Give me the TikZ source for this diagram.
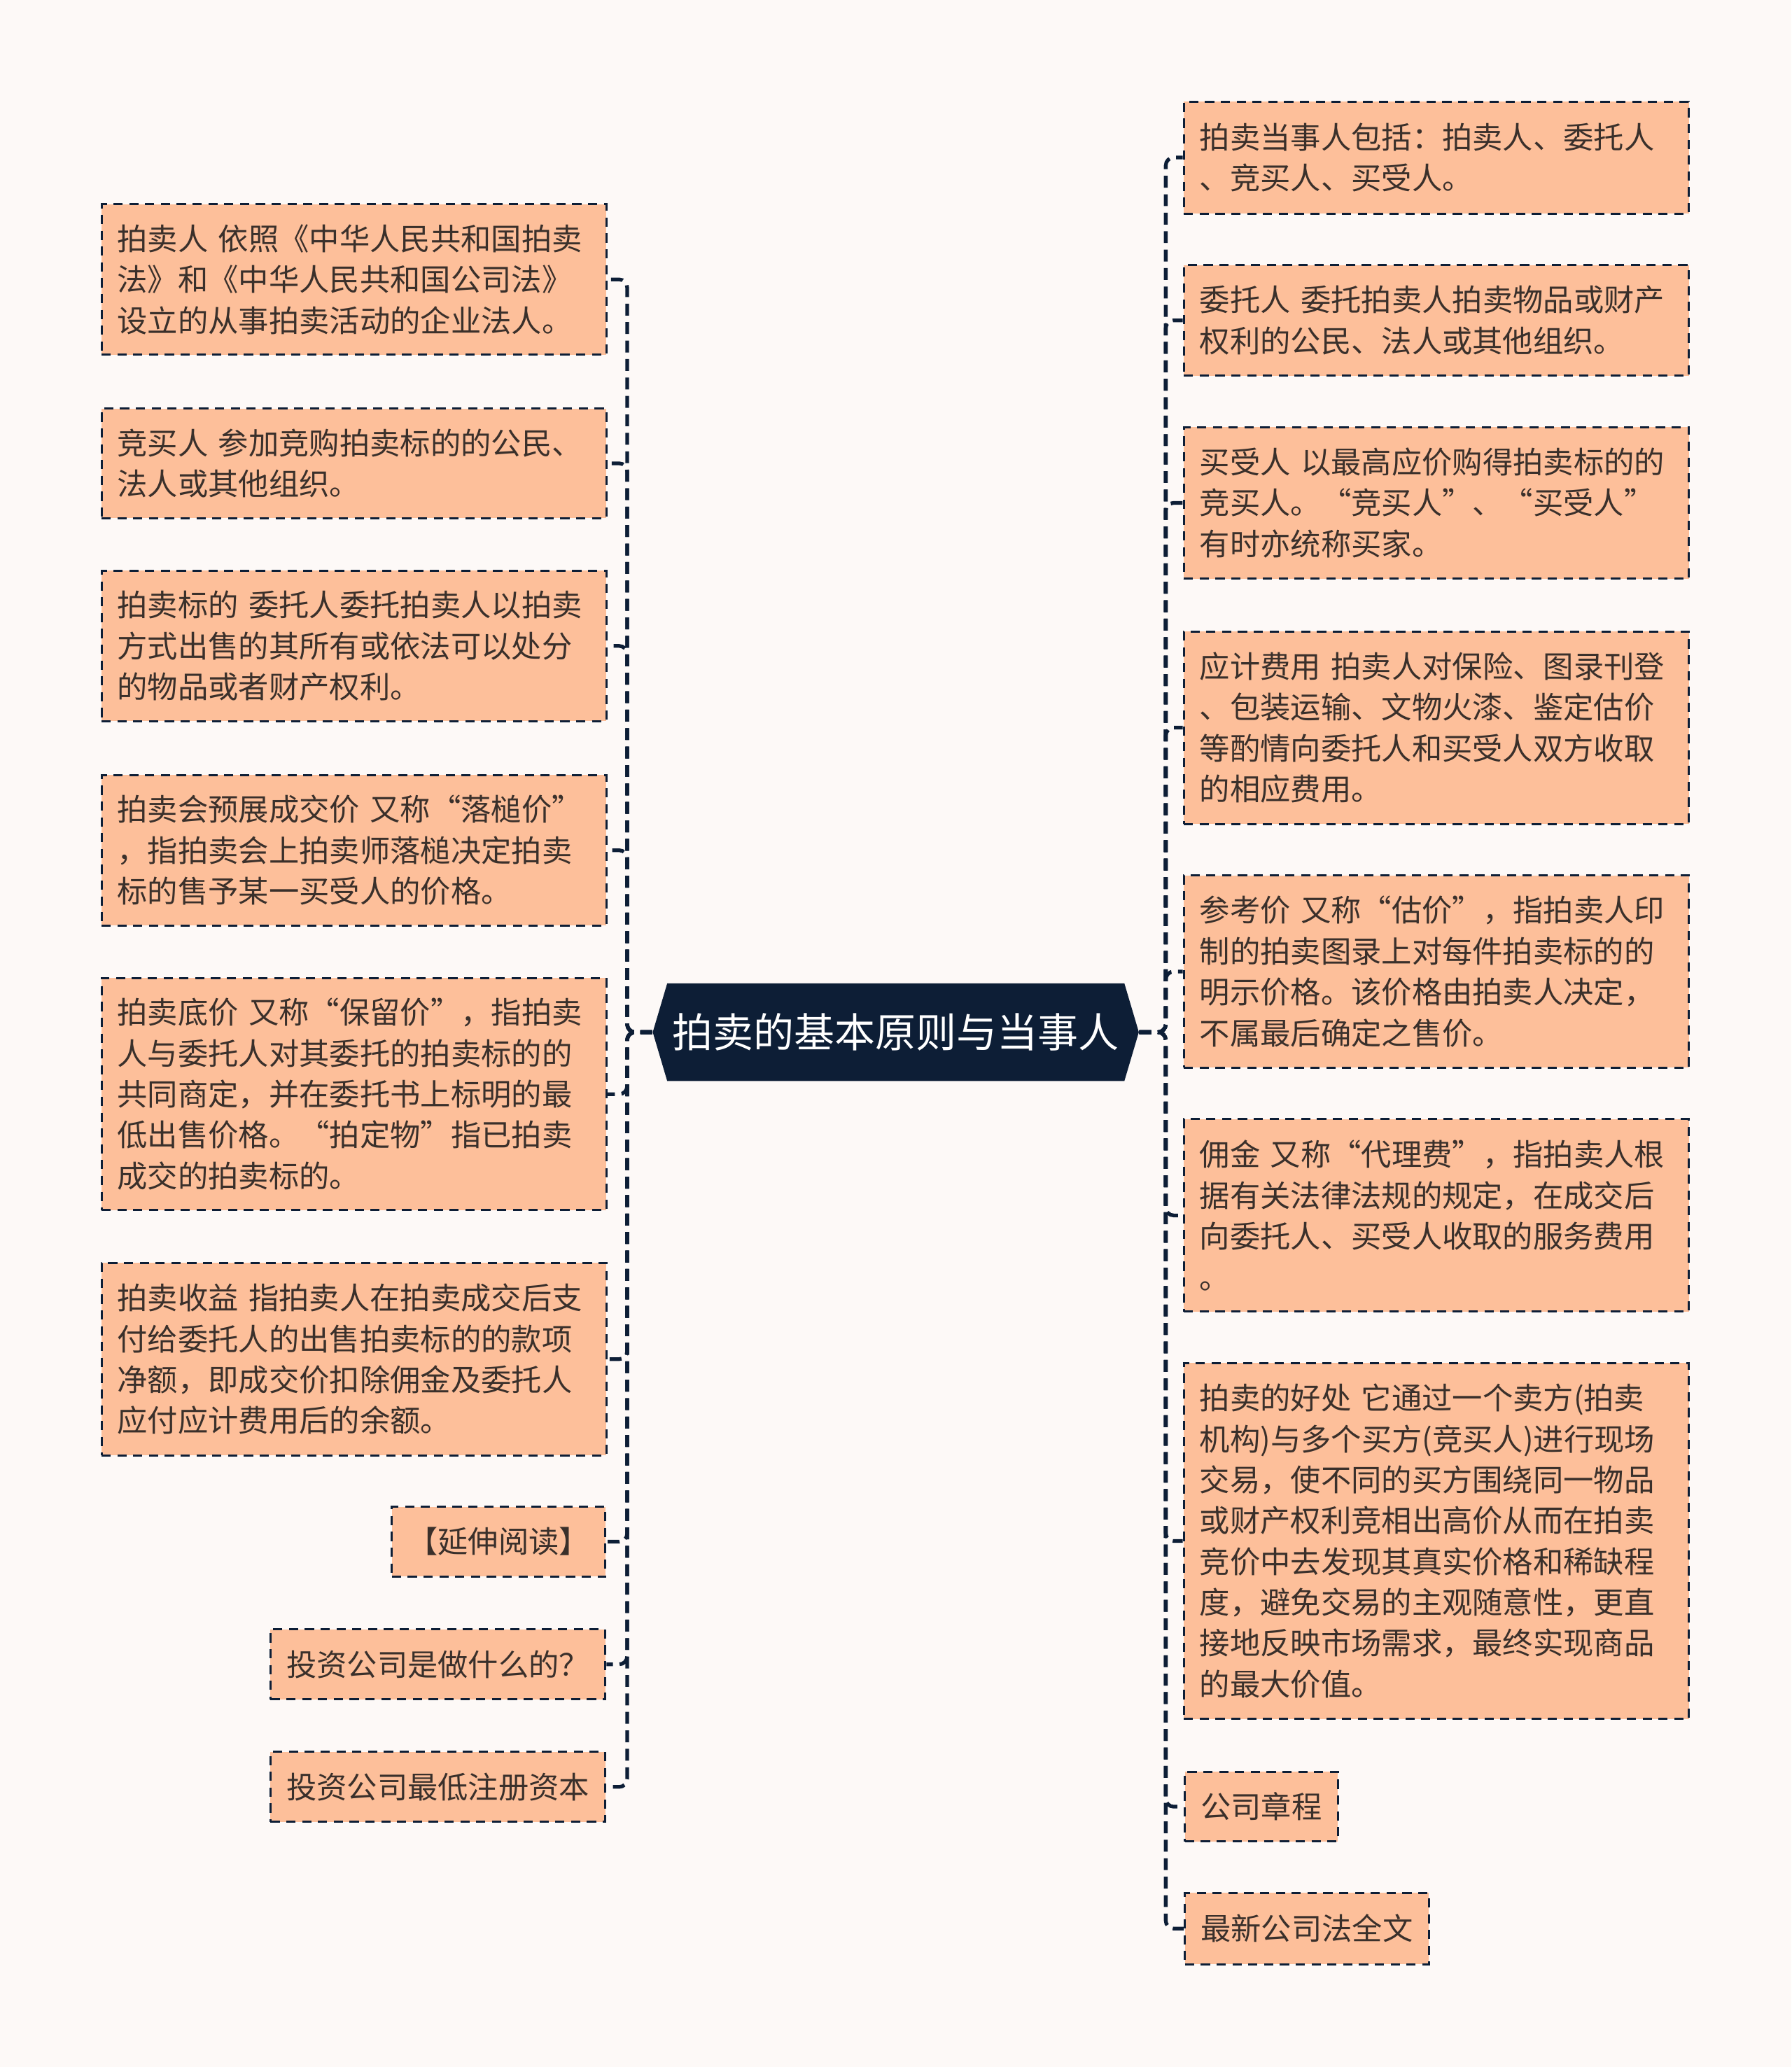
\documentclass[tikz,border=0pt]{standalone}
\usepackage{fontspec}
\setmainfont{Noto Sans CJK SC}
\usepackage{xcolor}
\usepackage{tikz}
\usetikzlibrary{shapes.symbols}
\definecolor{navyc}{HTML}{0D1E36}
\definecolor{peachc}{HTML}{FDBF9A}
\definecolor{inkc}{HTML}{3A302B}
\definecolor{pagebg}{HTML}{FDF9F7}

\begin{document}
\begin{tikzpicture}[x=0.5pt,y=-0.5pt,
  leaf/.style={draw=navyc,fill=peachc,text=inkc,line width=0.8pt,
               dash pattern=on 3.5pt off 2.5pt,inner xsep=6pt,inner ysep=7pt,
               font=\fontsize{11.5pt}{15.5pt}\selectfont},
  wide/.style={leaf,text width=179.5pt,align=left},
  hub/.style={signal,signal to=east and west,signal pointer angle=147,
              fill=navyc,text=white,minimum width=182.5pt,minimum height=37pt,
              inner sep=2pt,font=\fontsize{15.4pt}{18pt}\selectfont},
  link/.style={draw=navyc,line width=1.4pt,dash pattern=on 4.5pt off 2.5pt,
               rounded corners=3pt},
]
\fill[pagebg] (0,0) rectangle (1359,1568);
\useasboundingbox (0,0) rectangle (1359,1568);

\node[hub] (root) at (679.5,783) {拍卖的基本原则与当事人};

% left branch
\node[wide,minimum height=57pt] (l1) at (268.5,212)
  {拍卖人 依照《中华人民共和国拍卖\\法》和《中华人民共和国公司法》\\设立的从事拍卖活动的企业法人。};
\node[wide,minimum height=41.5pt] (l2) at (268.5,351.5)
  {竞买人 参加竞购拍卖标的的公民、\\法人或其他组织。};
\node[wide,minimum height=57pt] (l3) at (268.5,490)
  {拍卖标的 委托人委托拍卖人以拍卖\\方式出售的其所有或依法可以处分\\的物品或者财产权利。};
\node[wide,minimum height=57pt] (l4) at (268.5,645)
  {拍卖会预展成交价 又称“落槌价”\\，指拍卖会上拍卖师落槌决定拍卖\\标的售予某一买受人的价格。};
\node[wide,minimum height=88pt] (l5) at (268.5,830)
  {拍卖底价 又称“保留价”，指拍卖\\人与委托人对其委托的拍卖标的的\\共同商定，并在委托书上标明的最\\低出售价格。“拍定物”指已拍卖\\成交的拍卖标的。};
\node[wide,minimum height=73pt] (l6) at (268.5,1031)
  {拍卖收益 指拍卖人在拍卖成交后支\\付给委托人的出售拍卖标的的款项\\净额，即成交价扣除佣金及委托人\\应付应计费用后的余额。};
\node[leaf,anchor=east,minimum height=26.5pt] (l7) at (460,1169.5) {【延伸阅读】};
\node[leaf,anchor=east,minimum height=26.5pt] (l8) at (460,1262.5) {投资公司是做什么的？};
\node[leaf,anchor=east,minimum height=26.5pt] (l9) at (460,1355.5) {投资公司最低注册资本};

% right branch
\node[wide,minimum height=42.5pt] (r1) at (1089.5,119.5)
  {拍卖当事人包括：拍卖人、委托人\\、竞买人、买受人。};
\node[wide,minimum height=42pt] (r2) at (1089.5,243)
  {委托人 委托拍卖人拍卖物品或财产\\权利的公民、法人或其他组织。};
\node[wide,minimum height=57.5pt] (r3) at (1089.5,381.5)
  {买受人 以最高应价购得拍卖标的的\\竞买人。“竞买人”、“买受人”\\有时亦统称买家。};
\node[wide,minimum height=73pt] (r4) at (1089.5,552)
  {应计费用 拍卖人对保险、图录刊登\\、包装运输、文物火漆、鉴定估价\\等酌情向委托人和买受人双方收取\\的相应费用。};
\node[wide,minimum height=73pt] (r5) at (1089.5,737)
  {参考价 又称“估价”，指拍卖人印\\制的拍卖图录上对每件拍卖标的的\\明示价格。该价格由拍卖人决定，\\不属最后确定之售价。};
\node[wide,minimum height=73pt] (r6) at (1089.5,922)
  {佣金 又称“代理费”，指拍卖人根\\据有关法律法规的规定，在成交后\\向委托人、买受人收取的服务费用\\。};
\node[wide,minimum height=135pt] (r7) at (1089.5,1169)
  {拍卖的好处 它通过一个卖方(拍卖\\机构)与多个买方(竞买人)进行现场\\交易，使不同的买方围绕同一物品\\或财产权利竞相出高价从而在拍卖\\竞价中去发现其真实价格和稀缺程\\度，避免交易的主观随意性，更直\\接地反映市场需求，最终实现商品\\的最大价值。};
\node[leaf,anchor=west,minimum height=26.5pt] (r8) at (898,1370.5) {公司章程};
\node[leaf,anchor=west,minimum height=27pt] (r9) at (898,1463) {最新公司法全文};

% connectors
\draw[link] (root.west) -- ++(-19,0) |- (l1.east);
\draw[link] (root.west) -- ++(-19,0) |- (l2.east);
\draw[link] (root.west) -- ++(-19,0) |- (l3.east);
\draw[link] (root.west) -- ++(-19,0) |- (l4.east);
\draw[link] (root.west) -- ++(-19,0) |- (l5.east);
\draw[link] (root.west) -- ++(-19,0) |- (l6.east);
\draw[link] (root.west) -- ++(-19,0) |- (l7.east);
\draw[link] (root.west) -- ++(-19,0) |- (l8.east);
\draw[link] (root.west) -- ++(-19,0) |- (l9.east);
\draw[link] (root.east) -- ++(20,0) |- (r1.west);
\draw[link] (root.east) -- ++(20,0) |- (r2.west);
\draw[link] (root.east) -- ++(20,0) |- (r3.west);
\draw[link] (root.east) -- ++(20,0) |- (r4.west);
\draw[link] (root.east) -- ++(20,0) |- (r5.west);
\draw[link] (root.east) -- ++(20,0) |- (r6.west);
\draw[link] (root.east) -- ++(20,0) |- (r7.west);
\draw[link] (root.east) -- ++(20,0) |- (r8.west);
\draw[link] (root.east) -- ++(20,0) |- (r9.west);
\end{tikzpicture}
\end{document}
